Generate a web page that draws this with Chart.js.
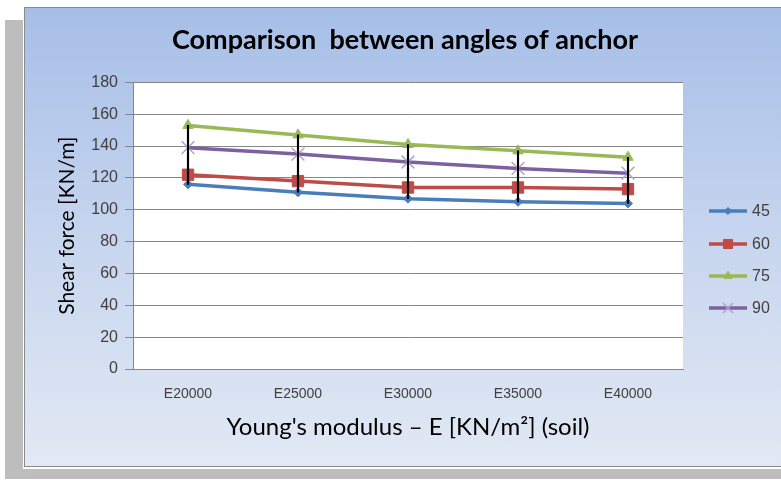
<!DOCTYPE html>
<html>
<head>
<meta charset="utf-8">
<script src="https://cdn.jsdelivr.net/npm/chart.js"></script>
<style>
  html, body { margin: 0; padding: 0; background: #fff; width: 781px; height: 480px; overflow: hidden; }
  #shadowLeft { position: absolute; left: 5px; top: 20px; width: 18px; height: 459px; background: #bdbdbd; }
  #shadowBottom { position: absolute; left: 5px; top: 469px; width: 790px; height: 10px; background: #bdbdbd; }
  #panel { position: absolute; left: 24px; top: 7px; width: 770px; height: 458px;
    border: 1px solid #8a8a8a;
    background: linear-gradient(to bottom, #a6bee7 0%, #c4d3ee 45%, #e2e9f4 100%); }
  #chart { position: absolute; left: 24px; top: 7px; }
</style>
</head>
<body>
<div id="shadowLeft"></div>
<div id="shadowBottom"></div>
<div id="panel"></div>
<canvas id="chart" width="757" height="460"></canvas>
<script>
// data
const categories = ['E20000', 'E25000', 'E30000', 'E35000', 'E40000'];
const seriesNames = ['45', '60', '75', '90'];
const s45 = [116, 111, 107, 105, 104];
const s60 = [122, 118, 114, 114, 113];
const s75 = [153, 147, 141, 137, 133];
const s90 = [139, 135, 130, 126, 123];
const yTicks = [0, 20, 40, 60, 80, 100, 120, 140, 160, 180];

const allSeries = [s45, s60, s75, s90];
// high-low lines: lowest to highest value in each category
const highLow = categories.map((c, i) => {
  const vals = allSeries.map(s => s[i]);
  return [Math.min(...vals), Math.max(...vals)];
});

const tickColor = '#404040';
const gridColor = '#868686';

// white plot area
const plotBg = {
  id: 'plotBg',
  beforeDraw(chart) {
    const a = chart.chartArea;
    chart.ctx.save();
    chart.ctx.fillStyle = '#ffffff';
    chart.ctx.fillRect(a.left, a.top, a.right - a.left, a.bottom - a.top);
    chart.ctx.restore();
  }
};

// legend drawn by hand: line with the marker on it
const legendPlugin = {
  id: 'sideLegend',
  afterDraw(chart) {
    const ctx = chart.ctx;
    const rows = [204, 237, 269, 301];
    chart.data.datasets.forEach((ds, i) => {
      if (ds.type === 'bar') return;
      const y = rows[i];
      ctx.save();
      ctx.strokeStyle = ds.borderColor;
      ctx.lineWidth = ds.borderWidth;
      ctx.beginPath();
      ctx.moveTo(685, y);
      ctx.lineTo(723, y);
      ctx.stroke();
      ctx.fillStyle = ds.pointBackgroundColor;
      ctx.strokeStyle = ds.pointBorderColor;
      ctx.lineWidth = ds.pointBorderWidth;
      Chart.helpers.drawPoint(ctx, {
        pointStyle: ds.pointStyle,
        radius: ds.pointRadius * 0.8,
        rotation: 0,
        borderWidth: ds.pointBorderWidth
      }, 704, y);
      ctx.fillStyle = tickColor;
      ctx.font = '16px "Liberation Sans", Arial, sans-serif';
      ctx.textBaseline = 'middle';
      ctx.textAlign = 'left';
      ctx.fillText(ds.label, 728, y + 1);
      ctx.restore();
    });
  }
};

function lineSet(label, data, color, style, radius, fill, border, bw) {
  return {
    type: 'line',
    label: label,
    data: data,
    borderColor: color,
    borderWidth: 3.5,
    pointStyle: style,
    pointRadius: radius,
    pointHoverRadius: radius,
    pointBackgroundColor: fill,
    pointBorderColor: border,
    pointBorderWidth: bw,
    tension: 0,
    order: 1
  };
}

new Chart(document.getElementById('chart').getContext('2d'), {
  type: 'line',
  data: {
    labels: categories,
    datasets: [
      lineSet(seriesNames[0], s45, '#4a7ebb', 'rectRot', 4.5, '#4a7ebb', '#4a7ebb', 1),
      lineSet(seriesNames[1], s60, '#be4b48', 'rect', 8, '#be4b48', '#be4b48', 1),
      lineSet(seriesNames[2], s75, '#98b954', 'triangle', 6, '#98b954', '#98b954', 1),
      lineSet(seriesNames[3], s90, '#7d60a0', 'crossRot', 9, '#b3a2c7', '#b3a2c7', 1.5),
      {
        type: 'bar',
        label: 'high-low',
        data: highLow,
        backgroundColor: '#000000',
        barThickness: 1.5,
        order: 0
      }
    ]
  },
  options: {
    responsive: false,
    animation: false,
    devicePixelRatio: 1,
    layout: { padding: { left: 5, right: 0, top: 0, bottom: 0 } },
    plugins: {
      legend: { display: false },
      tooltip: { enabled: false },
      title: {
        display: true,
        text: 'Comparison  between angles of anchor',
        color: '#000000',
        font: { family: 'Lato, "Open Sans", sans-serif', size: 27, weight: 'bold', lineHeight: 1.2 },
        padding: { top: 17, bottom: 26 }
      }
    },
    scales: {
      x: {
        offset: true,
        grid: { display: false, drawTicks: false },
        border: { display: true, color: gridColor, width: 1 },
        ticks: {
          color: tickColor,
          font: { family: '"Liberation Sans", Arial, sans-serif', size: 14 },
          padding: 17,
          maxRotation: 0
        },
        title: {
          display: true,
          text: "Young's modulus \u2013 E [KN/m\u00B2] (soil)",
          color: '#000000',
          font: { family: 'Lato, "Open Sans", sans-serif', size: 24 },
          padding: { top: 0, bottom: 25 }
        },
        afterFit(scale) { scale.height = 98; }
      },
      y: {
        min: 0,
        max: 180,
        afterBuildTicks(scale) { scale.ticks = yTicks.map(v => ({ value: v })); },
        grid: { color: gridColor, lineWidth: 1, tickLength: 8 },
        border: { display: true, color: gridColor, width: 1 },
        ticks: {
          color: tickColor,
          font: { family: '"Liberation Sans", Arial, sans-serif', size: 16 },
          padding: 7
        },
        title: {
          display: true,
          text: 'Shear force [KN/m]',
          color: '#000000',
          font: { family: 'Lato, "Open Sans", sans-serif', size: 21 },
          padding: { top: 26, bottom: 0 }
        },
        afterFit(scale) { scale.width = 104; }
      },
      yR: {
        position: 'right',
        display: true,
        grid: { display: false, drawTicks: false },
        border: { display: false },
        ticks: { display: false },
        afterFit(scale) { scale.width = 98; }
      }
    }
  },
  plugins: [plotBg, legendPlugin]
});
</script>
</body>
</html>
